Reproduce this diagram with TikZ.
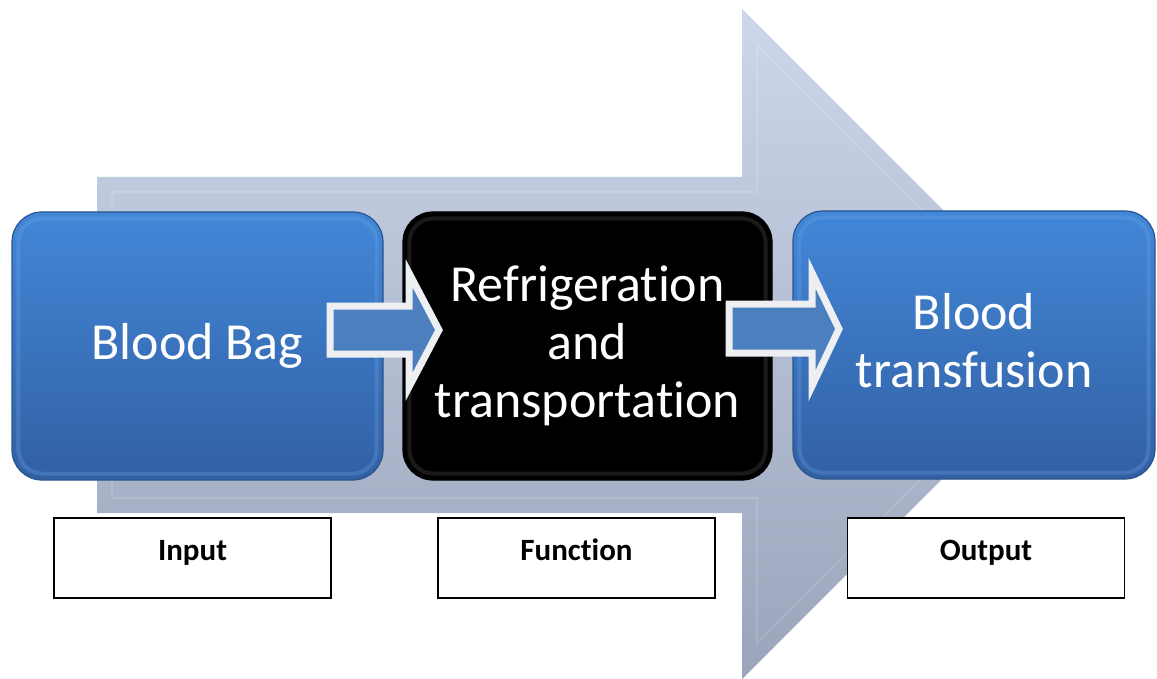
\documentclass[tikz,border=0pt]{standalone}
\usepackage{fontspec}
\setmainfont{Carlito}[RawFeature={-liga,-clig,-calt,-dlig}]
\usetikzlibrary{calc}
\definecolor{arrowTop}{HTML}{CDD7EB}
\definecolor{arrowBot}{HTML}{9AA4BA}
\definecolor{blueTop}{HTML}{4287D8}
\definecolor{blueBot}{HTML}{3260A3}
\definecolor{blueEdge}{HTML}{2A548C}
\definecolor{blueLight}{HTML}{6AA3E4}
\definecolor{smallFill}{HTML}{4B7FBE}
\definecolor{smallEdge}{HTML}{EDEFF2}
\tikzset{
  stagebox/.style={rounded corners=30pt, minimum height=268pt, inner sep=0pt,
    text=white, align=center, font=\fontsize{52}{58}\selectfont, line width=1.2pt},
  bluestage/.style={stagebox, top color=blueTop, bottom color=blueBot, draw=blueEdge},
  blackstage/.style={stagebox, fill=black, draw=black},
  bluebevel/.style={rounded corners=24pt, draw=blueLight, draw opacity=0.3, line width=4pt},
  blackbevel/.style={rounded corners=24pt, draw=white, draw opacity=0.1, line width=4pt},
  smallarrow/.style={fill=smallFill, draw=smallEdge, line width=7pt, line join=miter},
  labelbox/.style={draw=black, fill=white, line width=1.8pt, minimum width=277pt,
    minimum height=80pt, inner sep=0pt},
  labeltext/.style={font=\fontsize{31}{37}\selectfont\bfseries, inner sep=0pt, anchor=base},
}
\begin{document}
\begin{tikzpicture}[x=1pt, y=-1pt]
\useasboundingbox (0,0) rectangle (1157,679);
\fill[white] (0,0) rectangle (1157,679);
% big background arrow
\shade[top color=arrowTop, bottom color=arrowBot]
  (97,177) -- (742,177) -- (742,9) -- (1077,344) -- (742,679) -- (742,513) -- (97,513) -- cycle;
\draw[white, draw opacity=0.13, line width=2pt, line join=miter]
  (112,192) -- (757,192) -- (757,45) -- (1056,344) -- (757,643) -- (757,498) -- (112,498) -- cycle;
% stage boxes
\node[bluestage, minimum width=371pt] (bag) at (197.5,346) {Blood Bag};
\node[blackstage, minimum width=369pt] (fridge) at (587.5,346) {Refrigeration\\and\\transportation};
\node[bluestage, minimum width=362pt, text depth=10pt] (transf) at (974,345) {Blood\\transfusion};
\draw[bluebevel] ($(bag.north west)+(7,7)$) rectangle ($(bag.south east)+(-7,-7)$);
\draw[blackbevel] ($(fridge.north west)+(7,7)$) rectangle ($(fridge.south east)+(-7,-7)$);
\draw[bluebevel] ($(transf.north west)+(7,7)$) rectangle ($(transf.south east)+(-7,-7)$);
% small block arrows
\draw[smallarrow] (330,306) -- (409,306) -- (409,273) -- (439,330) -- (409,387) -- (409,354) -- (330,354) -- cycle;
\draw[smallarrow] (729,304) -- (812,304) -- (812,273) -- (839,329) -- (812,386) -- (812,353) -- (729,353) -- cycle;
% label boxes
\node[labelbox] (inbox) at (192.5,558) {};
\node[labelbox] (fnbox) at (576.5,558) {};
\node[labelbox] (outbox) at (986,558) {};
\node[labeltext] (intext) at (192.5,560) {Input};
\node[labeltext] (fntext) at (576.5,560) {Function};
\node[labeltext] (outtext) at (986,560) {Output};
\end{tikzpicture}
\end{document}
